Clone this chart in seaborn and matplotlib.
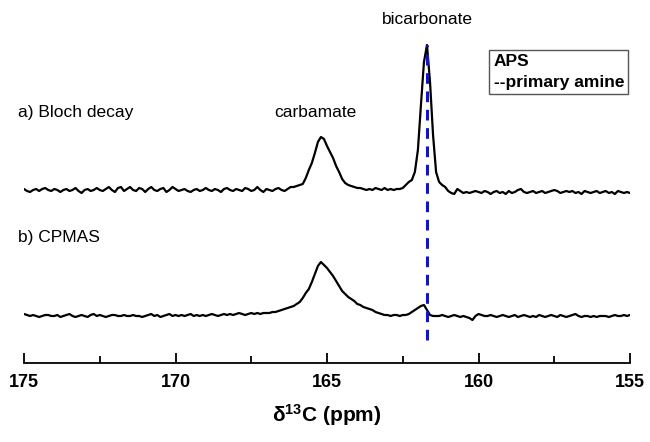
import numpy as np
import pandas as pd
import seaborn as sns
import matplotlib.pyplot as plt

# chemical shift axis (ppm), one sample every 0.1 ppm
ppm = np.round(np.linspace(175, 155, 201), 1)

# a) Bloch decay intensity (above its own baseline)
bloch = [1, -1, -2, 0, 1, -1, 1, 2, 0, -1, 1, 0, -2, 0, 1, -1, 0, 2, -1, -3,
         0, 1, -1, 0, 2, 0, -1, 1, 3, 0,
         -2, 2, 3, -1, 1, 3, 0, -1, 2, 1, -2, 1, 3, 0, -1, 1, 2, -2, 0, 3,
         1, -1, 0, 1, -1, -2, 0, 1, -1, 0,
         2, 0, -1, 1, 0, -2, 1, 2, 0, -1, 1, 0, -1, 2, 1, -1, 0, 3, 0, -2,
         1, 0, -1, 1, 2, 0, -1, 1,
         3, 3, 4, 5, 6, 12, 20, 27, 37, 48, 53, 51, 44, 38, 32, 24, 18, 11,
         7, 5, 4, 3, 2, 2,
         1, 0, 1, 0, 2, 1, 0, 2, 0, 1, 0, 1, 1,
         2, 5, 8, 10, 18, 40, 85, 128, 145, 108, 55, 18, 8, 5, 3,
         -1, -3, -4, 1, -1, -3, -2, -3, -2, -1,
         -2, -3, -1, -2, -4, -2, -1, -3, -2, -4,
         -1, -3, -2, 0, 1, -2, -3, -2, -1, -3,
         -2, -1, -3, -2, -1, 0, -1, -3, -2, -1,
         -2, -1, -3, -2, -4, -1, -2, -3, -2, -1,
         -3, -2, -1, -3, -2, -4, -1, -2, -3, -2, -3]

# b) CPMAS intensity
cpmas = [2, 1, 0, 1, 0, -1, 0, 1, 1, 0,
         0, 1, -1, 0, 1, 2, 0, -1, 0, 1,
         0, -1, 1, 2, 0, 1, 0, -1, 0, 1,
         1, 0, 0, 1, 0, 0, 1, 0, 0, -1,
         0, 1, 2, 0, 1, -1, 0, 1, 2, 0,
         1, 0, 1, 0, 1, 2, 0, 1, 0, 1,
         0, 1, 2, 1, 0, 1, 2, 1, 2, 1,
         2, 3, 2, 1, 2, 3, 2, 3, 2, 3,
         3, 3, 4, 4, 5, 6, 7, 8, 9, 10,
         12, 14, 18, 23, 27, 34, 42, 50, 54, 51,
         48, 44, 40, 35, 30, 25, 22, 19, 17, 15,
         12, 11, 9, 8, 7, 6, 4, 3, 2, 1,
         1, 0, 1, 1, 0, 1, 1, 2, 4, 6,
         8, 10, 11, 6, 1, 0, 0,
         0, 1, 0, -1, 0, 1, 0, -1, 0, -1,
         -2, -4, 0, 2, 1, 0, 0, 1, 0, -1,
         0, 1, 0, -1, 0, 1, -1, 0, 1, 0,
         -1, 0, -1, 1, 0, -1, 0, 1, 0, -1,
         1, 0, -1, 0, 1, 2, 0, -1, 0, 0,
         -1, 0, -1, 0, 0, 0, -1, 0, 1, 0,
         0, 1, 0, 1]

bicarbonate_ppm = 161.7
carbamate_ppm = 165.4

# vertical stacking of the two spectra
offset_bloch = 173
offset_cpmas = 47

sns.set_style("white")
plt.rcParams['font.family'] = ['Liberation Sans', 'DejaVu Sans']
plt.rcParams['text.color'] = 'black'
plt.rcParams['axes.labelcolor'] = 'black'
plt.rcParams['xtick.color'] = 'black'
plt.rcParams['mathtext.fontset'] = 'custom'
plt.rcParams['mathtext.bf'] = 'Liberation Sans:bold'
plt.rcParams['mathtext.rm'] = 'Liberation Sans:bold'

df = pd.DataFrame({'ppm': ppm,
                   'bloch': np.array(bloch) + offset_bloch,
                   'cpmas': np.array(cpmas) + offset_cpmas})

fig = plt.figure(figsize=(6.5, 4.42), dpi=100)
ax = fig.add_axes([24 / 650, 79 / 442, 606 / 650, 353 / 442])

sns.lineplot(data=df, x='ppm', y='bloch', color='black', lw=1.6, ax=ax)
sns.lineplot(data=df, x='ppm', y='cpmas', color='black', lw=1.6, ax=ax)
ax.vlines(bicarbonate_ppm, 23, 318, colors='#1010e0', linestyles=(0, (3.5, 2.5)),
          lw=2.2, zorder=3)

ax.set_xlim(175, 155)
ax.set_ylim(0, 353)
ax.set_yticks([])
ax.set_ylabel('')
for s in ['left', 'top', 'right']:
    ax.spines[s].set_visible(False)
ax.spines['bottom'].set_color('black')
ax.spines['bottom'].set_linewidth(1.3)

ax.set_xticks([175, 170, 165, 160, 155])
ax.set_xticks([172.5, 167.5, 162.5, 157.5], minor=True)
ax.tick_params(axis='x', which='major', bottom=True, direction='in', length=7,
               width=1.3, pad=8, labelsize=13, colors='black')
ax.tick_params(axis='x', which='minor', bottom=True, direction='in', length=5,
               width=1.3, colors='black')
for lab in ax.get_xticklabels():
    lab.set_fontweight('bold')
ax.set_xlabel(r'$\mathbf{\delta^{13}C}$ (ppm)', fontsize=15, fontweight='bold',
              labelpad=8)

ax.text(175.2, 250, 'a) Bloch decay', fontsize=12.5, ha='left', va='center')
ax.text(175.2, 125, 'b) CPMAS', fontsize=12.5, ha='left', va='center')
ax.text(carbamate_ppm, 250, 'carbamate', fontsize=12.5, ha='center', va='center')
ax.text(bicarbonate_ppm, 343, 'bicarbonate', fontsize=12.5, ha='center',
        va='center')
ax.text(159.5, 291, 'APS\n--primary amine', fontsize=12.5, fontweight='bold',
        ha='left', va='center', linespacing=1.5,
        bbox=dict(boxstyle='square,pad=0.25', fc='white', ec='#555555', lw=1))

fig.savefig('out.png', dpi=100)
